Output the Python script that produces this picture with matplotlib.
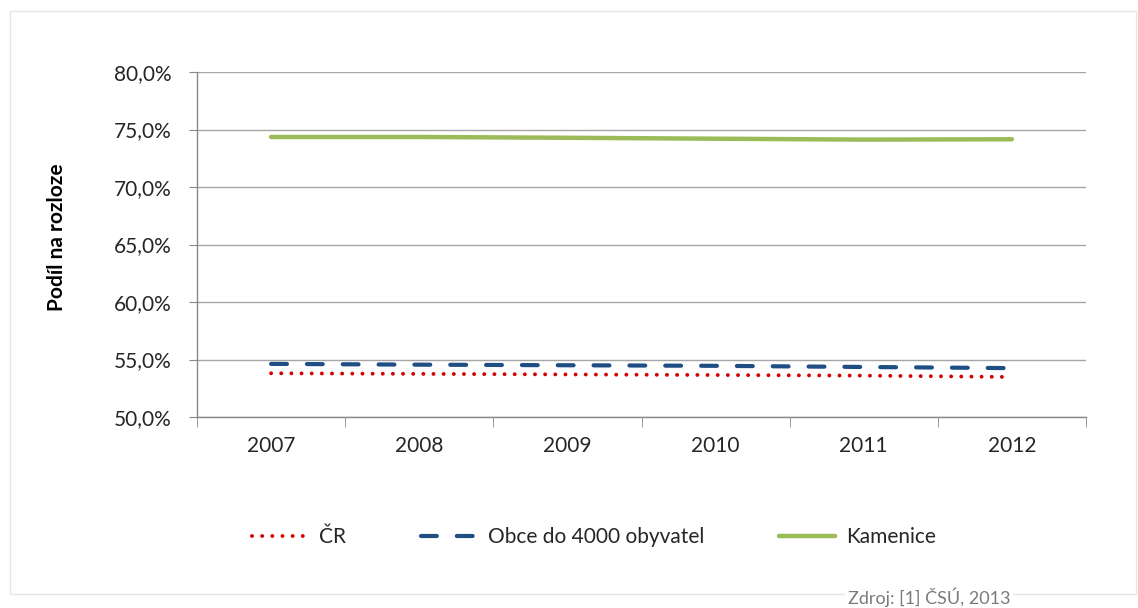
import matplotlib
matplotlib.use("Agg")
import matplotlib.pyplot as plt
from matplotlib.patches import Rectangle
from matplotlib.ticker import FuncFormatter, MultipleLocator

years = ["2007", "2008", "2009", "2010", "2011", "2012"]
cr = [53.80, 53.75, 53.70, 53.65, 53.60, 53.48]
obce = [54.62, 54.55, 54.50, 54.45, 54.35, 54.25]
kamenice = [74.35, 74.35, 74.28, 74.20, 74.12, 74.15]

plt.rcParams['font.family'] = ['Lato', 'DejaVu Sans']

fig = plt.figure(figsize=(11.38, 6.08), dpi=100)
W, H = 1138, 608
ax = fig.add_axes([197 / W, 1 - 417 / H, (1086 - 197) / W, (417 - 72) / H])

# outer border
fig.patches.append(Rectangle((10 / W, 1 - 594 / H), (1136 - 10) / W, (594 - 11) / H,
                             transform=fig.transFigure, fill=False,
                             edgecolor='#e6e6de', linewidth=1.0))

x = list(range(len(years)))
ax.plot(x, cr, color='#d40000', linestyle=(0, (0.01, 2.6)), linewidth=2.8,
        dash_capstyle='round', label='ČR')
ax.plot(x, obce, color='#1f4e85', linestyle=(0, (3.8, 4.8)), linewidth=3,
        dash_capstyle='round', label='Obce do 4000 obyvatel')
ax.plot(x, kamenice, color='#9bbb59', linestyle='-', linewidth=3.2,
        solid_capstyle='round', label='Kamenice')

ax.set_xlim(-0.5, len(years) - 0.5)
ax.set_ylim(50, 80)
ax.yaxis.set_major_locator(MultipleLocator(5))
ax.yaxis.set_major_formatter(FuncFormatter(lambda v, p: f"{v:.1f}%".replace('.', ',')))
ax.set_xticks(x)
ax.set_xticklabels(years)
ax.set_xticks([i - 0.5 for i in range(len(years) + 1)], minor=True)
ax.tick_params(axis='x', which='major', length=0, pad=14, labelsize=15, labelcolor='#262626')
ax.tick_params(axis='x', which='minor', length=7, color='#888888', direction='out')
ax.tick_params(axis='y', length=6, color='#888888', pad=12, labelsize=15, labelcolor='#262626')

ax.grid(axis='y', color='#a6a6a6', linewidth=1.0)
ax.set_axisbelow(True)
for s in ['top', 'right']:
    ax.spines[s].set_visible(False)
for s in ['left', 'bottom']:
    ax.spines[s].set_color('#888888')
    ax.spines[s].set_linewidth(1.0)

fig.text(57 / W, 1 - 237 / H, 'Podíl na rozloze', rotation=90, ha='center', va='center',
         fontsize=15, fontweight='bold', family=['Liberation Sans Narrow', 'Lato', 'DejaVu Sans'])

leg = fig.legend(loc='center', bbox_to_anchor=(0.522, 1 - 537 / H), ncol=3, frameon=False,
                 fontsize=15, handlelength=2.7, columnspacing=3.6, handletextpad=0.5)
for t in leg.get_texts():
    t.set_color('#262626')

fig.text(848 / W, 1 - 597 / H, 'Zdroj: [1] ČSÚ, 2013', ha='left', va='center', fontsize=13,
         color='#7a7a7a', bbox=dict(facecolor='white', edgecolor='none', pad=2))

fig.savefig('out.png', dpi=100)
